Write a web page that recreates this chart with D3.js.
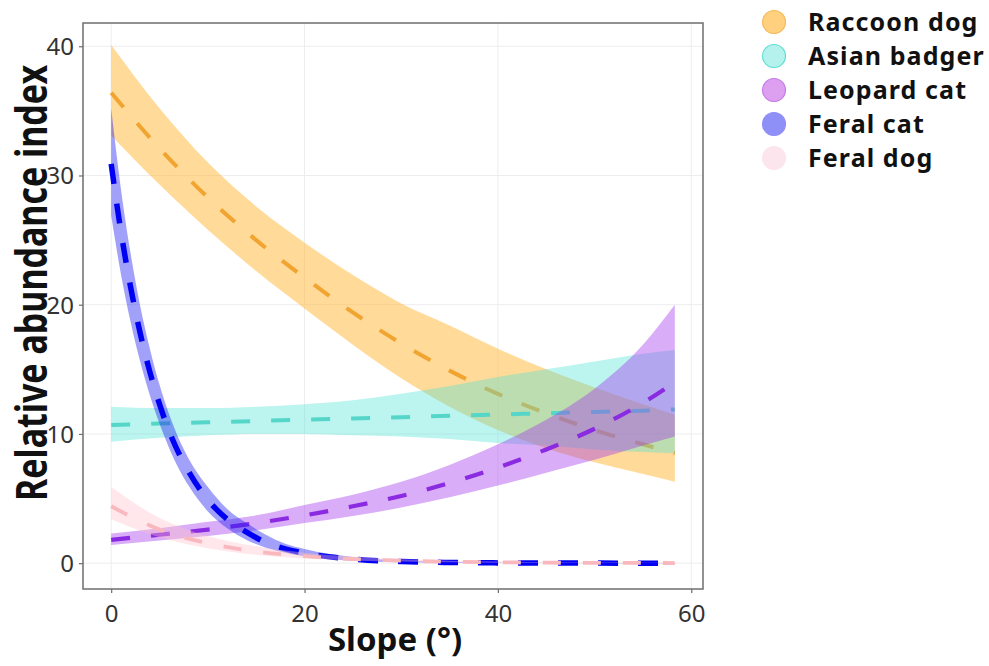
<!DOCTYPE html>
<html>
<head>
<meta charset="utf-8">
<script src="https://cdn.jsdelivr.net/npm/d3@7/dist/d3.min.js"></script>
<style>
  html, body { margin: 0; padding: 0; background: #fff; }
  svg text { font-family: "Noto Sans", "DejaVu Sans", sans-serif; }
</style>
</head>
<body>
<svg id="chart" width="989" height="666"></svg>
<script>
// Slope values (degrees) at which the fitted curves are sampled
const slopeCoarse = [0, 5, 10, 15, 20, 25, 30, 35, 40, 45, 50, 55, 58.3];
const slopeFine = [0, 1, 2, 3, 4, 5, 6, 8, 10, 12, 14, 16, 18, 20, 25, 30, 35, 40, 45, 50, 58.3];

// Raccoon dog: fitted index with lower / upper confidence limits
const raccoonMean  = [36.4, 32.1, 28.3, 25.0, 22.1, 19.4, 17.0, 14.9, 13.1, 11.6, 10.3, 9.2, 8.5];
const raccoonLower = [33.1, 29.3, 25.8, 22.6, 19.7, 16.9, 14.3, 12.1, 10.3, 8.9, 7.8, 6.9, 6.3];
const raccoonUpper = [40.1, 35.2, 31.0, 27.6, 24.8, 22.3, 20.1, 18.4, 16.6, 15.0, 13.6, 12.3, 11.5];

// Asian badger
const badgerMean  = [10.7, 10.8, 10.9, 11.0, 11.1, 11.2, 11.3, 11.4, 11.5, 11.6, 11.7, 11.8, 11.9];
const badgerLower = [9.4, 9.7, 9.9, 10.0, 10.0, 9.9, 9.8, 9.6, 9.3, 9.1, 8.8, 8.6, 8.5];
const badgerUpper = [12.1, 12.0, 12.0, 12.1, 12.3, 12.6, 13.1, 13.7, 14.4, 15.0, 15.6, 16.2, 16.5];

// Leopard cat
const leopardMean  = [1.8, 2.2, 2.6, 3.1, 3.7, 4.4, 5.2, 6.2, 7.4, 8.8, 10.4, 12.4, 14.0];
const leopardLower = [1.4, 1.75, 2.1, 2.55, 3.1, 3.65, 4.3, 5.1, 6.0, 7.0, 8.0, 9.1, 9.8];
const leopardUpper = [2.3, 2.7, 3.2, 3.7, 4.5, 5.3, 6.3, 7.6, 9.2, 11.1, 13.5, 16.9, 20.0];

// Feral cat (sampled on the finer slope grid)
const feralCatMean  = [30.9, 25.7, 21.4, 17.8, 14.8, 12.3, 10.2, 7.1, 4.9, 3.4, 2.4, 1.6, 1.1, 0.78, 0.31, 0.12, 0.05, 0.02, 0.01, 0.003, 0.001];
const feralCatLower = [26.9, 22.4, 18.7, 15.6, 13.0, 10.8, 8.9, 6.0, 4.0, 2.7, 1.8, 1.2, 0.8, 0.53, 0.19, 0.07, 0.025, 0.009, 0.003, 0.001, 0.0003];
const feralCatUpper = [35.2, 29.0, 24.0, 19.9, 16.6, 13.8, 11.5, 8.1, 5.9, 4.2, 3.1, 2.2, 1.5, 1.1, 0.47, 0.2, 0.09, 0.04, 0.02, 0.008, 0.003];

// Feral dog
const feralDogMean  = [4.4, 2.6, 1.54, 0.91, 0.54, 0.32, 0.19, 0.11, 0.066, 0.039, 0.023, 0.014, 0.01];
const feralDogLower = [3.4, 2.0, 1.15, 0.65, 0.37, 0.21, 0.12, 0.066, 0.037, 0.021, 0.012, 0.007, 0.005];
const feralDogUpper = [5.9, 3.5, 2.1, 1.3, 0.8, 0.5, 0.31, 0.19, 0.12, 0.075, 0.047, 0.03, 0.022];

const speciesNames = ["Raccoon dog", "Asian badger", "Leopard cat", "Feral cat", "Feral dog"];
const xTicks = [0, 20, 40, 60];
const yTicks = [0, 10, 20, 30, 40];

const species = [
  { name: speciesNames[0], x: slopeCoarse, mean: raccoonMean, lo: raccoonLower, hi: raccoonUpper,
    fill: "#FFB531", fillOpacity: 0.5, line: "#F2A430", width: 4, dash: "19,21",
    key: "#FFD07E", keyStroke: "#F5B85A" },
  { name: speciesNames[1], x: slopeCoarse, mean: badgerMean, lo: badgerLower, hi: badgerUpper,
    fill: "#4EE3D6", fillOpacity: 0.38, line: "#55D6C9", width: 4, dash: "19,21",
    key: "#B5F2EE", keyStroke: "#5EDDD2" },
  { name: speciesNames[2], x: slopeCoarse, mean: leopardMean, lo: leopardLower, hi: leopardUpper,
    fill: "#A53BEB", fillOpacity: 0.42, line: "#8A2BE2", width: 4.2, dash: "19,21",
    key: "#DDA0F0", keyStroke: "#C57BE6" },
  { name: speciesNames[3], x: slopeFine, mean: feralCatMean, lo: feralCatLower, hi: feralCatUpper,
    fill: "#1F1FF0", fillOpacity: 0.42, line: "#0000F5", width: 5.5, dash: "20,20",
    key: "#8F8FF8", keyStroke: "#8F8FF8" },
  { name: speciesNames[4], x: slopeCoarse, mean: feralDogMean, lo: feralDogLower, hi: feralDogUpper,
    fill: "#FFC0CB", fillOpacity: 0.38, line: "#F9B8BD", width: 3.8, dash: "18,22",
    key: "#FCE5EC", keyStroke: "#FCE5EC" }
];

const svg = d3.select("#chart");
const panel = { left: 83, right: 703, top: 23, bottom: 589 };

const x = d3.scaleLinear().domain([-2.915, 61.215]).range([panel.left, panel.right]);
const y = d3.scaleLinear().domain([-2.0, 41.8]).range([panel.bottom, panel.top]);

// Grid lines
const grid = svg.append("g");
grid.selectAll("line.gx").data(xTicks).join("line")
  .attr("x1", d => x(d)).attr("x2", d => x(d))
  .attr("y1", panel.top).attr("y2", panel.bottom)
  .attr("stroke", "#EDEDED").attr("stroke-width", 1);
grid.selectAll("line.gy").data(yTicks).join("line")
  .attr("x1", panel.left).attr("x2", panel.right)
  .attr("y1", d => y(d)).attr("y2", d => y(d))
  .attr("stroke", "#EDEDED").attr("stroke-width", 1);

svg.append("clipPath").attr("id", "panelClip")
  .append("rect").attr("x", panel.left).attr("y", panel.top)
  .attr("width", panel.right - panel.left).attr("height", panel.bottom - panel.top);

const plot = svg.append("g").attr("clip-path", "url(#panelClip)");

const area = d3.area().curve(d3.curveMonotoneX);
const line = d3.line().curve(d3.curveMonotoneX);

// Each species: confidence ribbon, then its dashed fitted line
species.forEach(s => {
  const pts = s.x.map((v, i) => ({ x: v, m: s.mean[i], lo: s.lo[i], hi: s.hi[i] }));
  plot.append("path")
    .attr("d", area.x(d => x(d.x)).y0(d => y(d.lo)).y1(d => y(d.hi))(pts))
    .attr("fill", s.fill).attr("fill-opacity", s.fillOpacity);
  plot.append("path")
    .attr("d", line.x(d => x(d.x)).y(d => y(d.m))(pts))
    .attr("fill", "none").attr("stroke", s.line)
    .attr("stroke-width", s.width).attr("stroke-dasharray", s.dash);
});

// Panel border
svg.append("rect")
  .attr("x", panel.left).attr("y", panel.top)
  .attr("width", panel.right - panel.left).attr("height", panel.bottom - panel.top)
  .attr("fill", "none").attr("stroke", "#6E6E6E").attr("stroke-width", 1.5);

// Axes
const xAxis = svg.append("g").attr("transform", `translate(0,${panel.bottom})`)
  .call(d3.axisBottom(x).tickValues(xTicks).tickSize(4).tickPadding(6));
const yAxis = svg.append("g").attr("transform", `translate(${panel.left},0)`)
  .call(d3.axisLeft(y).tickValues(yTicks).tickSize(4).tickPadding(5));
[xAxis, yAxis].forEach(a => {
  a.select(".domain").remove();
  a.selectAll(".tick line").attr("stroke", "#6E6E6E").attr("stroke-width", 1.2);
  a.selectAll(".tick text").attr("fill", "#333").attr("font-size", 24)
    .attr("font-family", "'Noto Sans', sans-serif");
});
xAxis.selectAll(".tick text").attr("dy", "0.95em");
yAxis.selectAll(".tick text").attr("dy", "0.35em");

// Axis titles
svg.append("text")
  .attr("x", 395).attr("y", 651)
  .attr("text-anchor", "middle").attr("font-size", 33).attr("font-weight", "bold")
  .attr("fill", "#111").text("Slope (°)");
svg.append("text")
  .attr("transform", `translate(47,283) rotate(-90) scale(1,1.25)`)
  .attr("text-anchor", "middle").attr("font-size", 34).attr("font-weight", "bold")
  .attr("fill", "#111").text("Relative abundance index");

// Legend
const legend = svg.append("g");
species.forEach((s, i) => {
  const cy = 22 + i * 34;
  legend.append("circle").attr("cx", 774).attr("cy", cy).attr("r", 11.5)
    .attr("fill", s.key).attr("stroke", s.keyStroke).attr("stroke-width", 1.2);
  legend.append("text").attr("x", 808).attr("y", cy).attr("dy", "0.36em")
    .attr("font-family", "'DejaVu Sans', sans-serif")
    .attr("font-size", 25).attr("letter-spacing", 1.1)
    .attr("font-weight", "bold").attr("fill", "#111")
    .text(s.name);
});
</script>
</body>
</html>
